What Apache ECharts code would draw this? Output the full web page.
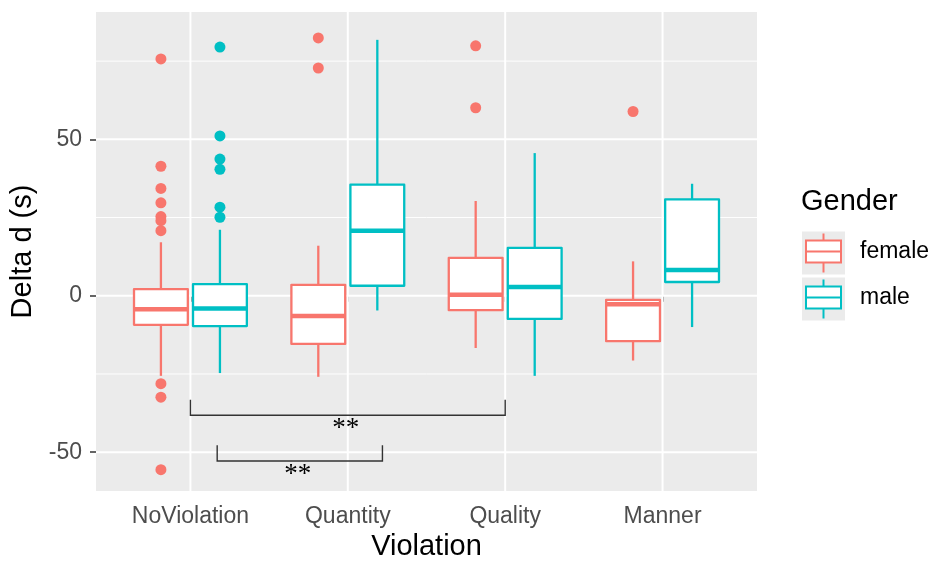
<!DOCTYPE html>
<html>
<head>
<meta charset="utf-8">
<script src="https://cdn.jsdelivr.net/npm/echarts@6/dist/echarts.min.js"></script>
<style>
  html, body { margin: 0; padding: 0; background: #fff; }
  #chart { width: 931px; height: 562px; }
</style>
</head>
<body>
<div id="chart"></div>
<script>
// data
const categories = ['NoViolation', 'Quantity', 'Quality', 'Manner']
const femaleLow = [-25.6, -25.9, -16.7, -20.7]
const femaleQ1 = [-9.3, -15.4, -4.6, -14.5]
const femaleMedian = [-4.3, -6.5, 0.3, -2.7]
const femaleQ3 = [2.1, 3.5, 12.1, -1.3]
const femaleHigh = [17.1, 16.0, 30.3, 11.0]
const maleLow = [-24.7, -4.7, -25.6, -10.0]
const maleQ1 = [-9.7, 3.2, -7.4, 4.4]
const maleMedian = [-4.1, 20.8, 2.8, 8.2]
const maleQ3 = [3.7, 35.5, 15.3, 30.8]
const maleHigh = [21.1, 81.8, 45.6, 35.8]
const femaleOutliers = [
  [75.7, 41.4, 34.3, 29.7, 25.3, 24.0, 20.8, -28.1, -32.4, -55.6],
  [82.4, 72.8],
  [79.9, 60.1],
  [58.9]
]
const maleOutliers = [[79.5, 51.1, 43.7, 40.4, 28.3, 25.1], [], [], []]
const yTicks = [-50, 0, 50]
const yMinor = [-25, 25, 75]
const sigFrom = [1, 1.17]
const sigTo = [3, 2.22]
const sigY = [-38.2, -52.8]
const sigLabels = ['**', '**']

const FEMALE = '#F8766D'
const MALE = '#00BFC4'
const X_MIN = 0.4, X_MAX = 4.6
const Y_MIN = -62.4, Y_MAX = 90.7
const DODGE = 0.1875
const HALF = 0.171
const FONT = 'Liberation Sans, Arial, sans-serif'

const xTicks = categories.map((c, i) => i + 1)

function boxData (low, q1, med, q3, high, off) {
  return categories.map((c, i) => [i + 1 + off, low[i], q1[i], med[i], q3[i], high[i]])
}
function outlierData (list, off) {
  const out = []
  list.forEach((vals, i) => vals.forEach(v => out.push([i + 1 + off, v])))
  return out
}

function renderBox (color) {
  return function (params, api) {
    const x = api.value(0)
    const hw = api.size([HALF, 0])[0]
    const lo = api.coord([x, api.value(1)])
    const q1 = api.coord([x, api.value(2)])
    const md = api.coord([x, api.value(3)])
    const q3 = api.coord([x, api.value(4)])
    const hi = api.coord([x, api.value(5)])
    const line = { stroke: color, lineWidth: 2.3, fill: null }
    return {
      type: 'group',
      children: [
        { type: 'line', shape: { x1: hi[0], y1: hi[1], x2: q3[0], y2: q3[1] }, style: line },
        { type: 'line', shape: { x1: q1[0], y1: q1[1], x2: lo[0], y2: lo[1] }, style: line },
        { type: 'rect', shape: { x: q3[0] - hw, y: q3[1], width: 2 * hw, height: q1[1] - q3[1] },
          style: { fill: '#fff', stroke: color, lineWidth: 2.3, lineJoin: 'round' } },
        { type: 'line', shape: { x1: md[0] - hw, y1: md[1], x2: md[0] + hw, y2: md[1] },
          style: { stroke: color, lineWidth: 4.5 } }
      ]
    }
  }
}

const myChart = echarts.init(document.getElementById('chart'))
myChart.setOption({
  animation: false,
  grid: {
    left: 96, right: 174, top: 12, bottom: 71,
    outerBoundsMode: 'none', containLabel: false,
    show: true, backgroundColor: '#EBEBEB', borderWidth: 0
  },
  xAxis: {
    type: 'value', min: X_MIN, max: X_MAX,
    splitLine: { show: false },
    axisLine: { show: false },
    axisTick: { show: true, customValues: xTicks, length: 6, lineStyle: { color: '#333', width: 1.5 } },
    axisLabel: {
      customValues: xTicks, color: '#4D4D4D', fontSize: 23, fontFamily: FONT, margin: 14,
      formatter: v => categories[Math.round(v) - 1]
    },
    name: 'Violation', nameLocation: 'middle', nameGap: 40,
    nameTextStyle: { fontSize: 29, color: '#000', fontFamily: FONT }
  },
  yAxis: {
    type: 'value', min: Y_MIN, max: Y_MAX,
    splitLine: { show: false },
    axisLine: { show: false },
    axisTick: { show: true, customValues: yTicks, length: 6, lineStyle: { color: '#333', width: 1.5 } },
    axisLabel: { customValues: yTicks, color: '#4D4D4D', fontSize: 23, fontFamily: FONT, margin: 14 },
    name: 'Delta d (s)', nameLocation: 'middle', nameGap: 50,
    nameTextStyle: { fontSize: 29, color: '#000', fontFamily: FONT }
  },
  series: [
    {
      // panel grid lines
      type: 'custom', z: 1, silent: true,
      data: yTicks.map(v => [0, v, 2]).concat(yMinor.map(v => [0, v, 1])).concat(xTicks.map(v => [1, v, 2])),
      renderItem: function (params, api) {
        const v = api.value(1)
        const a = api.value(0) ? api.coord([v, Y_MIN]) : api.coord([X_MIN, v])
        const b = api.value(0) ? api.coord([v, Y_MAX]) : api.coord([X_MAX, v])
        return { type: 'line', shape: { x1: a[0], y1: a[1], x2: b[0], y2: b[1] },
          style: { stroke: '#fff', lineWidth: api.value(2) } }
      }
    },
    {
      name: 'female', type: 'custom', z: 2,
      data: boxData(femaleLow, femaleQ1, femaleMedian, femaleQ3, femaleHigh, -DODGE),
      renderItem: renderBox(FEMALE)
    },
    {
      name: 'male', type: 'custom', z: 2,
      data: boxData(maleLow, maleQ1, maleMedian, maleQ3, maleHigh, DODGE),
      renderItem: renderBox(MALE)
    },
    {
      type: 'scatter', z: 3, symbolSize: 11,
      itemStyle: { color: FEMALE, opacity: 1 },
      data: outlierData(femaleOutliers, -DODGE)
    },
    {
      type: 'scatter', z: 3, symbolSize: 11,
      itemStyle: { color: MALE, opacity: 1 },
      data: outlierData(maleOutliers, DODGE)
    },
    {
      // significance brackets
      type: 'custom', z: 4, silent: true,
      data: sigY.map((y, i) => [sigFrom[i], sigTo[i], y]),
      renderItem: function (params, api) {
        const y = api.value(2)
        const p1 = api.coord([api.value(0), y + 5])
        const p2 = api.coord([api.value(0), y])
        const p3 = api.coord([api.value(1), y])
        const p4 = api.coord([api.value(1), y + 5])
        return {
          type: 'group',
          children: [
            { type: 'polyline', shape: { points: [p1, p2, p3, p4] },
              style: { stroke: '#333', lineWidth: 1.4, fill: null } },
            { type: 'text', x: (p2[0] + p3[0]) / 2 - 2, y: p2[1] + 14,
              style: { text: sigLabels[params.dataIndex], font: '27px "Liberation Serif", serif',
                fill: '#000', align: 'center', verticalAlign: 'middle' } }
          ]
        }
      }
    }
  ],
  graphic: [
    { type: 'text', left: 801, top: 187,
      style: { text: 'Gender', font: '29px ' + FONT, fill: '#000' } },
    { type: 'group', left: 802, top: 231, children: [
      { type: 'rect', shape: { x: 0, y: 0, width: 43, height: 43 }, style: { fill: '#EBEBEB' } },
      { type: 'line', shape: { x1: 21.5, y1: 2, x2: 21.5, y2: 41 }, style: { stroke: FEMALE, lineWidth: 2 } },
      { type: 'rect', shape: { x: 4, y: 9, width: 35, height: 22 }, style: { fill: '#fff', stroke: FEMALE, lineWidth: 2 } },
      { type: 'line', shape: { x1: 4, y1: 20, x2: 39, y2: 20 }, style: { stroke: FEMALE, lineWidth: 2 } }
    ] },
    { type: 'group', left: 802, top: 277, children: [
      { type: 'rect', shape: { x: 0, y: 0, width: 43, height: 43 }, style: { fill: '#EBEBEB' } },
      { type: 'line', shape: { x1: 21.5, y1: 2, x2: 21.5, y2: 41 }, style: { stroke: MALE, lineWidth: 2 } },
      { type: 'rect', shape: { x: 4, y: 9, width: 35, height: 22 }, style: { fill: '#fff', stroke: MALE, lineWidth: 2 } },
      { type: 'line', shape: { x1: 4, y1: 20, x2: 39, y2: 20 }, style: { stroke: MALE, lineWidth: 2 } }
    ] },
    { type: 'text', left: 860, top: 240,
      style: { text: 'female', font: '23px ' + FONT, fill: '#000' } },
    { type: 'text', left: 860, top: 286,
      style: { text: 'male', font: '23px ' + FONT, fill: '#000' } }
  ]
})
</script>
</body>
</html>
